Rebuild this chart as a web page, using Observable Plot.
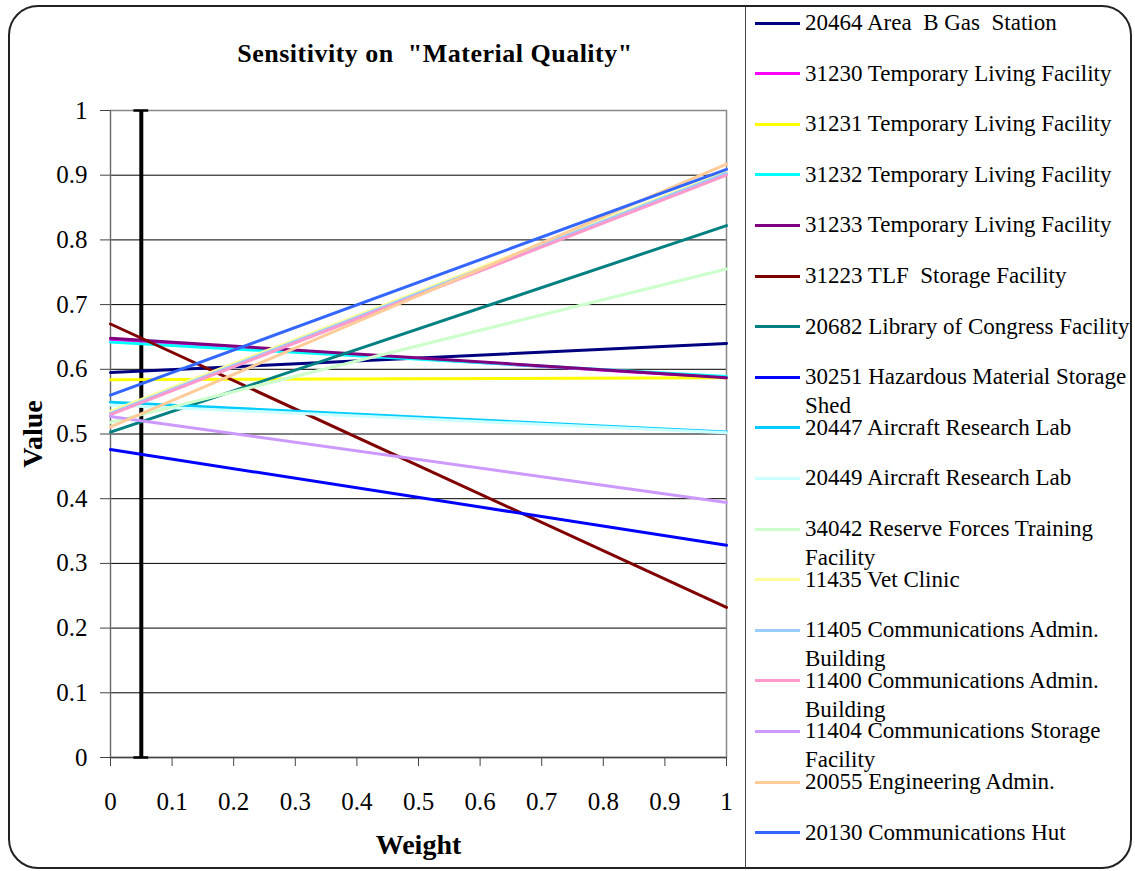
<!DOCTYPE html>
<html><head><meta charset="utf-8">
<script src="https://cdn.jsdelivr.net/npm/d3@7"></script>
<script src="https://cdn.jsdelivr.net/npm/@observablehq/plot@0.6"></script>
<style>
body{margin:0;background:#fff;}
#wrap{position:relative;width:1135px;height:871px;overflow:hidden;font-family:"Liberation Serif","Times New Roman",serif;color:#000;}
#outer{position:absolute;left:8px;top:5px;width:1124px;height:864px;border:2px solid #222;border-radius:30px;box-sizing:border-box;}
#legline{position:absolute;left:745px;top:7px;width:0;height:861px;border-left:1.5px solid #444;}
#title{position:absolute;left:115px;width:640px;top:38px;text-align:center;font-weight:bold;font-size:26px;letter-spacing:0.5px;line-height:32px;white-space:pre;}
#chart{position:absolute;left:0;top:0;}
.sw{position:absolute;width:45px;height:3px;}
.lt{position:absolute;width:330px;font-size:23px;line-height:29px;white-space:pre-wrap;}
#chart svg [aria-label="x-axis label"] text, #chart svg [aria-label="y-axis label"] text{font-weight:bold;font-size:28px;}
</style></head>
<body>
<div id="wrap">
  <div id="outer"></div>
  <div id="legline"></div>
  <div id="title">Sensitivity on  "Material Quality"</div>
  <div id="chart"></div>
</div>
<script>
const series = [
  "20464 Area  B Gas  Station",
  "31230 Temporary Living Facility",
  "31231 Temporary Living Facility",
  "31232 Temporary Living Facility",
  "31233 Temporary Living Facility",
  "31223 TLF  Storage Facility",
  "20682 Library of Congress Facility",
  "30251 Hazardous Material Storage Shed",
  "20447 Aircraft Research Lab",
  "20449 Aircraft Research Lab",
  "34042 Reserve Forces Training Facility",
  "11435 Vet Clinic",
  "11405 Communications Admin. Building",
  "11400 Communications Admin. Building",
  "11404 Communications Storage Facility",
  "20055 Engineering Admin.",
  "20130 Communications Hut"
];
const colors = ["#000080","#FF00FF","#FFFF00","#00FFFF","#800080","#800000","#008080","#0000FF",
  "#00CCFF","#CCFFFF","#CCFFCC","#FFFF99","#99CCFF","#FF99CC","#CC99FF","#FFCC99","#3366FF"];
const weights = [0, 1];
const valueAtWeight0 = [0.595,0.646,0.584,0.642,0.648,0.670,0.503,0.476,0.549,0.545,0.518,0.535,0.532,0.530,0.527,0.511,0.560];
const valueAtWeight1 = [0.640,0.587,0.587,0.589,0.587,0.232,0.822,0.328,0.503,0.502,0.755,0.905,0.903,0.900,0.394,0.917,0.909];
const xTicks = [0,0.1,0.2,0.3,0.4,0.5,0.6,0.7,0.8,0.9,1];
const yTicks = [0,0.1,0.2,0.3,0.4,0.5,0.6,0.7,0.8,0.9,1];
const gridValues = [0.1,0.2,0.3,0.4,0.5,0.6,0.7,0.8,0.9];
const errorBarX = [0.05];
const errorBarRange = [0, 1];
const capHalf = 0.012;

const rows = [];
series.forEach((s, i) => {
  rows.push({series: s, weight: weights[0], value: valueAtWeight0[i], order: i});
  rows.push({series: s, weight: weights[1], value: valueAtWeight1[i], order: i});
});

const chart = Plot.plot({
  width: 745, height: 871,
  marginLeft: 110, marginRight: 19, marginTop: 110, marginBottom: 114,
  style: {fontFamily: '"Liberation Serif","Times New Roman",serif', fontSize: "25px", background: "transparent", color: "#000"},
  x: {domain: [0, 1]},
  y: {domain: [0, 1]},
  color: {domain: series, range: colors},
  marks: [
    Plot.ruleY(gridValues, {stroke: "#000", strokeWidth: 1}),
    Plot.frame({stroke: "#888", strokeWidth: 1.5}),
    Plot.ruleY([0], {stroke: "#444", strokeWidth: 1.5}),
    Plot.ruleX([0], {stroke: "#666", strokeWidth: 1}),
    Plot.axisY({ticks: yTicks, tickFormat: d => String(d), tickSize: 10, tickPadding: 13, label: "Value", labelAnchor: "center", labelArrow: "none", labelOffset: 88, stroke: "#444"}),
    Plot.axisX({ticks: xTicks, tickFormat: d => String(d), tickSize: 9, tickPadding: 26, label: "Weight", labelAnchor: "center", labelOffset: 96, labelArrow: "none", stroke: "#444"}),
    Plot.ruleX(errorBarX, {y1: errorBarRange[0], y2: errorBarRange[1], stroke: "#000", strokeWidth: 4}),
    Plot.ruleY(errorBarRange, {x1: errorBarX[0] - capHalf, x2: errorBarX[0] + capHalf, stroke: "#000", strokeWidth: 2.5}),
    Plot.line(rows, {x: "weight", y: "value", z: "series", stroke: "series", strokeWidth: 3, sort: {channel: "order"}})
  ]
});
document.getElementById("chart").appendChild(chart);

const wrap = document.getElementById("wrap");
series.forEach((s, i) => {
  const cy = 23 + i * 50.6;
  const sw = document.createElement("div");
  sw.className = "sw";
  sw.style.left = "755px";
  sw.style.top = (cy - 1.5) + "px";
  sw.style.background = colors[i];
  wrap.appendChild(sw);
  const t = document.createElement("div");
  t.className = "lt";
  t.style.left = "805px";
  t.style.top = (cy - 15) + "px";
  t.textContent = s;
  wrap.appendChild(t);
});
</script>
</body></html>
